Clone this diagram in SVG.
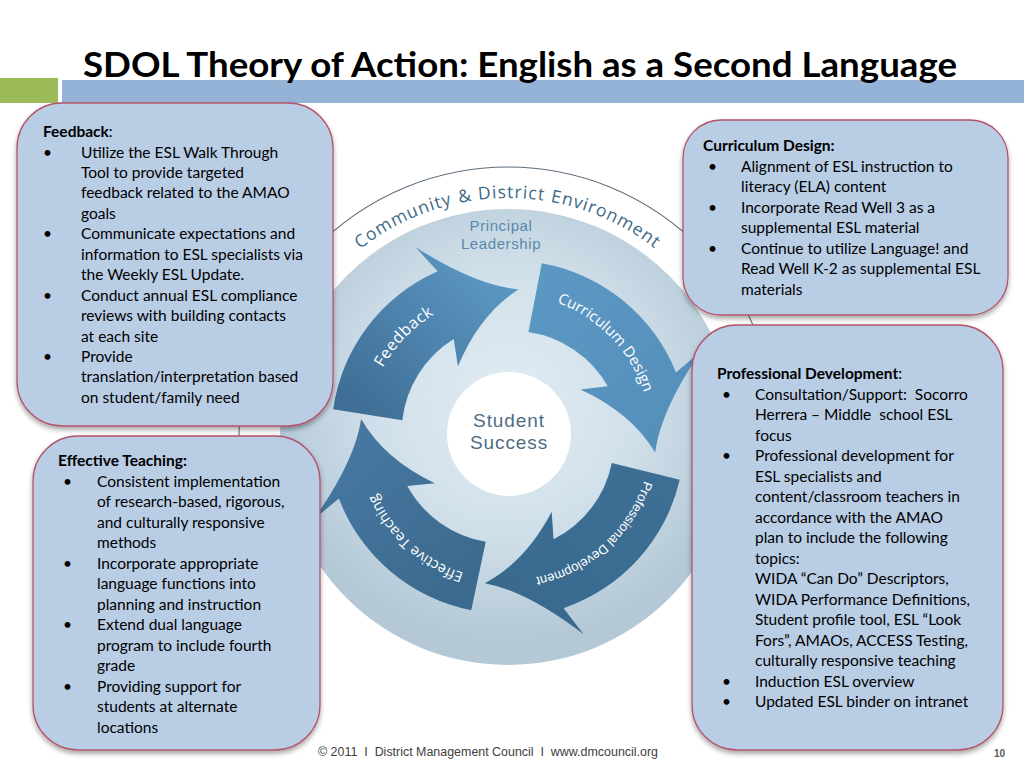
<svg xmlns="http://www.w3.org/2000/svg" xmlns:xlink="http://www.w3.org/1999/xlink" width="1024" height="768" viewBox="0 0 1024 768">
<style>
.box{fill:#b9cde5;stroke:#b4546a;stroke-width:1.3;filter:url(#sh)}
.bt{font-family:Lato,"Liberation Sans",sans-serif;font-size:15.5px;fill:#000}
.b{font-weight:700}
.al{font-family:"Open Sans","Liberation Sans",sans-serif;fill:#fff}
.env{font-family:"Open Sans","Liberation Sans",sans-serif;font-size:17.5px;letter-spacing:1px;fill:#3d6a87}
.ctr{font-family:"Liberation Sans",Arial,sans-serif;text-anchor:middle}
</style>
<defs>
<filter id="sh" x="-10%" y="-10%" width="120%" height="125%">
<feDropShadow dx="0" dy="3" stdDeviation="2.5" flood-color="#000" flood-opacity="0.35"/>
</filter>
<radialGradient id="disk" cx="508" cy="400" r="240" gradientUnits="userSpaceOnUse">
<stop offset="0" stop-color="#e2ecf3"/>
<stop offset="0.55" stop-color="#d0e0ea"/>
<stop offset="1" stop-color="#b4c8d6"/>
</radialGradient>
<linearGradient id="gFB" x1="140" y1="0" x2="40" y2="150" gradientUnits="userSpaceOnUse"><stop offset="0" stop-color="#3f6f96"/><stop offset="1" stop-color="#5a95c1"/></linearGradient>
<linearGradient id="gCD" x1="140" y1="0" x2="40" y2="150" gradientUnits="userSpaceOnUse"><stop offset="0" stop-color="#5b97c3"/><stop offset="1" stop-color="#5590bb"/></linearGradient>
<linearGradient id="gPD" x1="140" y1="0" x2="40" y2="150" gradientUnits="userSpaceOnUse"><stop offset="0" stop-color="#3d6f95"/><stop offset="1" stop-color="#396a8e"/></linearGradient>
<linearGradient id="gET" x1="140" y1="0" x2="40" y2="150" gradientUnits="userSpaceOnUse"><stop offset="0" stop-color="#3b6a8e"/><stop offset="1" stop-color="#4677a0"/></linearGradient>
<path id="arrow" d="M177 0 A178 178 0 0 1 95.4 152.6 L121 173 Q55.5 144.7 12.9 147.4 Q47.2 116.8 60.5 62 L68.96 88.26 A110 110 0 0 0 107 0 Z"/>
<path id="lab" d="M143 0 A143 143 0 0 1 58.16 130.64" fill="none"/>
<path id="envArc" d="M324.9 283.4 A239 239 0 0 1 691.1 283.4" fill="none"/>
</defs>
<rect width="1024" height="768" fill="#fff"/>
<!-- title bar -->
<rect x="0" y="78" width="58" height="25" fill="#9bbb59"/>
<rect x="62" y="80" width="962" height="23" fill="#95b3d7"/>
<text x="83" y="77" font-family="Lato,'Liberation Sans',sans-serif" font-weight="700" font-size="34" textLength="874" lengthAdjust="spacingAndGlyphs" fill="#000">SDOL Theory of Action: English as a Second Language</text>
<!-- central graphic -->
<g id="cycle">
<path d="M239.2 446.4 A269 269 0 1 1 776.8 446.4" fill="none" stroke="#5f6f7c" stroke-width="1.1"/>
<text class="env"><textPath xlink:href="#envArc" href="#envArc" startOffset="49">Community</textPath></text>
<text class="env"><textPath xlink:href="#envArc" href="#envArc" startOffset="159.5">&amp;</textPath></text>
<text class="env"><textPath xlink:href="#envArc" href="#envArc" startOffset="179">District</textPath></text>
<text class="env"><textPath xlink:href="#envArc" href="#envArc" startOffset="251">Environment</textPath></text>
<circle cx="508" cy="437" r="228" fill="url(#disk)"/>
<text class="ctr" font-size="15" letter-spacing="0.6" fill="#5a88ab"><tspan x="501" y="231">Principal</tspan><tspan x="501" y="249">Leadership</tspan></text>
<circle cx="509" cy="434" r="62" fill="#fff"/>
<text class="ctr" font-size="19" letter-spacing="0.9" fill="#4d6d85"><tspan x="509" y="427">Student</tspan><tspan x="509" y="449">Success</tspan></text>
</g>
<g id="arrow-feedback" transform="translate(508 437) rotate(189)">
<use href="#arrow" xlink:href="#arrow" fill="url(#gFB)"/>
<text class="al" font-size="16" letter-spacing="0.5"><textPath href="#lab" xlink:href="#lab" startOffset="53%" text-anchor="middle">Feedback</textPath></text>
</g>
<g id="arrow-curriculum" transform="translate(508 437) rotate(281)">
<use href="#arrow" xlink:href="#arrow" fill="url(#gCD)"/>
<text class="al" font-size="15"><textPath href="#lab" xlink:href="#lab" startOffset="53%" text-anchor="middle">Curriculum Design</textPath></text>
</g>
<g id="arrow-professional" transform="translate(508 437) rotate(14)">
<use href="#arrow" xlink:href="#arrow" fill="url(#gPD)"/>
<text font-family="'Liberation Sans',Arial,sans-serif" font-size="13" fill="#fff"><textPath href="#lab" xlink:href="#lab" startOffset="52%" text-anchor="middle">Professional Development</textPath></text>
</g>
<g id="arrow-teaching" transform="translate(508 437) rotate(102)">
<use href="#arrow" xlink:href="#arrow" fill="url(#gET)"/>
<text class="al" font-size="14.5"><textPath href="#lab" xlink:href="#lab" startOffset="46%" text-anchor="middle">Effective Teaching</textPath></text>
</g>
<!-- boxes -->
<g id="box-feedback">
<rect class="box" x="17" y="103" width="316" height="323" rx="45"/>
<text class="bt" x="43" y="137"><tspan class="b">Feedback</tspan>:</text>
<text class="bt" x="43" y="157.5">•</text><text class="bt" x="81" y="157.5">Utilize the ESL Walk Through</text>
<text class="bt" x="81" y="178">Tool to provide targeted</text>
<text class="bt" x="81" y="198.4">feedback related to the AMAO</text>
<text class="bt" x="81" y="218.8">goals</text>
<text class="bt" x="43" y="239.3">•</text><text class="bt" x="81" y="239.3">Communicate expectations and</text>
<text class="bt" x="81" y="259.7">information to ESL specialists via</text>
<text class="bt" x="81" y="280.2">the Weekly ESL Update.</text>
<text class="bt" x="43" y="300.6">•</text><text class="bt" x="81" y="300.6">Conduct annual ESL compliance</text>
<text class="bt" x="81" y="321">reviews with building contacts</text>
<text class="bt" x="81" y="341.5">at each site</text>
<text class="bt" x="43" y="362">•</text><text class="bt" x="81" y="362">Provide</text>
<text class="bt" x="81" y="382.4">translation/interpretation based</text>
<text class="bt" x="81" y="402.8">on student/family need</text>
</g>
<g id="box-curriculum">
<rect class="box" x="683" y="120" width="325" height="195" rx="38"/>
<text class="bt b" x="703" y="151">Curriculum Design:</text>
<text class="bt" x="708" y="171.5">•</text><text class="bt" x="741" y="171.5">Alignment of ESL instruction to</text>
<text class="bt" x="741" y="192">literacy (ELA) content</text>
<text class="bt" x="708" y="212.5">•</text><text class="bt" x="741" y="212.5">Incorporate Read Well 3 as a</text>
<text class="bt" x="741" y="233">supplemental ESL material</text>
<text class="bt" x="708" y="253.5">•</text><text class="bt" x="741" y="253.5">Continue to utilize Language! and</text>
<text class="bt" x="741" y="274">Read Well K-2 as supplemental ESL</text>
<text class="bt" x="741" y="294.5">materials</text>
</g>
<g id="box-professional">
<rect class="box" x="692" y="325" width="311" height="425" rx="45"/>
<text class="bt" x="717" y="379"><tspan class="b">Professional Development</tspan>:</text>
<text class="bt" x="722" y="399.5">•</text><text class="bt" x="755" y="399.5" xml:space="preserve">Consultation/Support:  Socorro</text>
<text class="bt" x="755" y="420" xml:space="preserve">Herrera – Middle  school ESL</text>
<text class="bt" x="755" y="440.5">focus</text>
<text class="bt" x="722" y="461">•</text><text class="bt" x="755" y="461">Professional development for</text>
<text class="bt" x="755" y="481.5">ESL specialists and</text>
<text class="bt" x="755" y="502">content/classroom teachers in</text>
<text class="bt" x="755" y="522.5">accordance with the AMAO</text>
<text class="bt" x="755" y="543">plan to include the following</text>
<text class="bt" x="755" y="563.5">topics:</text>
<text class="bt" x="755" y="584">WIDA “Can Do” Descriptors,</text>
<text class="bt" x="755" y="604.5">WIDA Performance Definitions,</text>
<text class="bt" x="755" y="625">Student profile tool, ESL “Look</text>
<text class="bt" x="755" y="645.5">Fors”, AMAOs, ACCESS Testing,</text>
<text class="bt" x="755" y="666">culturally responsive teaching</text>
<text class="bt" x="722" y="686.5">•</text><text class="bt" x="755" y="686.5">Induction ESL overview</text>
<text class="bt" x="722" y="707">•</text><text class="bt" x="755" y="707">Updated ESL binder on intranet</text>
</g>
<g id="box-teaching">
<rect class="box" x="33" y="436" width="287" height="314" rx="45"/>
<text class="bt b" x="58" y="466">Effective Teaching:</text>
<text class="bt" x="63" y="486.5">•</text><text class="bt" x="97" y="486.5">Consistent implementation</text>
<text class="bt" x="97" y="507">of research-based, rigorous,</text>
<text class="bt" x="97" y="527.5">and culturally responsive</text>
<text class="bt" x="97" y="548">methods</text>
<text class="bt" x="63" y="568.5">•</text><text class="bt" x="97" y="568.5">Incorporate appropriate</text>
<text class="bt" x="97" y="589">language functions into</text>
<text class="bt" x="97" y="609.5">planning and instruction</text>
<text class="bt" x="63" y="630">•</text><text class="bt" x="97" y="630">Extend dual language</text>
<text class="bt" x="97" y="650.5">program to include fourth</text>
<text class="bt" x="97" y="671">grade</text>
<text class="bt" x="63" y="691.5">•</text><text class="bt" x="97" y="691.5">Providing support for</text>
<text class="bt" x="97" y="712">students at alternate</text>
<text class="bt" x="97" y="732.5">locations</text>
</g>
<!-- footer -->
<text x="318" y="756" xml:space="preserve" font-family="'Liberation Sans',Arial,sans-serif" font-size="12" textLength="340" lengthAdjust="spacingAndGlyphs" fill="#404040">© 2011  I  District Management Council  I  www.dmcouncil.org</text>
<text x="1005" y="757" text-anchor="end" font-family="'Liberation Sans',Arial,sans-serif" font-weight="700" font-size="10" fill="#595959">10</text>
</svg>
